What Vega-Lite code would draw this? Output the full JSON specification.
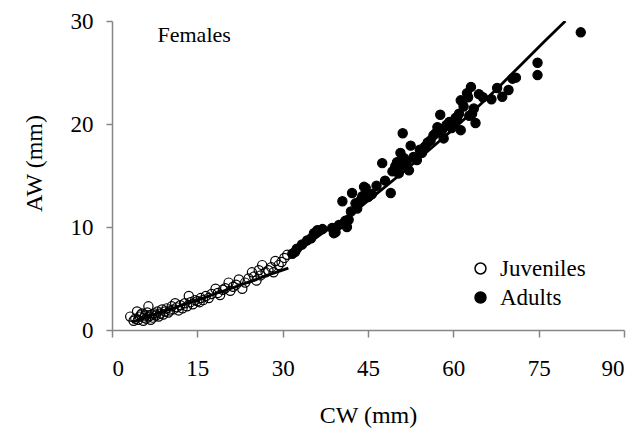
{
  "$schema": "https://vega.github.io/schema/vega-lite/v6.json",
  "width": 512,
  "height": 309,
  "autosize": "none",
  "padding": {"left": 112, "top": 21, "right": 15, "bottom": 100},
  "background": "white",
  "config": {
    "view": {"stroke": null},
    "font": "Liberation Serif",
    "axis": {
      "grid": false,
      "domainColor": "#868686",
      "tickColor": "#868686",
      "domainWidth": 1.5,
      "tickWidth": 1.5,
      "labelColor": "black",
      "titleColor": "black",
      "labelFont": "Liberation Serif",
      "titleFont": "Liberation Serif",
      "labelFontSize": 23,
      "titleFontSize": 24,
      "titleFontWeight": "normal"
    }
  },
  "datasets": {
    "pts": [
      {"CW": 3.2, "AW": 1.3, "Stage": "Juveniles"},
      {"CW": 3.8, "AW": 0.9, "Stage": "Juveniles"},
      {"CW": 4.1, "AW": 1.1, "Stage": "Juveniles"},
      {"CW": 4.4, "AW": 1.8, "Stage": "Juveniles"},
      {"CW": 4.6, "AW": 1.0, "Stage": "Juveniles"},
      {"CW": 4.9, "AW": 1.3, "Stage": "Juveniles"},
      {"CW": 5.1, "AW": 1.5, "Stage": "Juveniles"},
      {"CW": 5.3, "AW": 1.6, "Stage": "Juveniles"},
      {"CW": 5.5, "AW": 0.9, "Stage": "Juveniles"},
      {"CW": 5.6, "AW": 1.2, "Stage": "Juveniles"},
      {"CW": 5.8, "AW": 1.4, "Stage": "Juveniles"},
      {"CW": 6.0, "AW": 1.1, "Stage": "Juveniles"},
      {"CW": 6.2, "AW": 1.7, "Stage": "Juveniles"},
      {"CW": 6.4, "AW": 2.3, "Stage": "Juveniles"},
      {"CW": 6.5, "AW": 1.3, "Stage": "Juveniles"},
      {"CW": 6.8, "AW": 1.0, "Stage": "Juveniles"},
      {"CW": 7.0, "AW": 1.5, "Stage": "Juveniles"},
      {"CW": 7.2, "AW": 1.2, "Stage": "Juveniles"},
      {"CW": 7.5, "AW": 1.6, "Stage": "Juveniles"},
      {"CW": 7.7, "AW": 1.4, "Stage": "Juveniles"},
      {"CW": 8.0, "AW": 1.8, "Stage": "Juveniles"},
      {"CW": 8.2, "AW": 1.3, "Stage": "Juveniles"},
      {"CW": 8.5, "AW": 1.6, "Stage": "Juveniles"},
      {"CW": 8.8, "AW": 2.0, "Stage": "Juveniles"},
      {"CW": 9.0, "AW": 1.5, "Stage": "Juveniles"},
      {"CW": 9.3, "AW": 1.8, "Stage": "Juveniles"},
      {"CW": 9.6, "AW": 2.1, "Stage": "Juveniles"},
      {"CW": 9.9, "AW": 1.7, "Stage": "Juveniles"},
      {"CW": 10.2, "AW": 1.9, "Stage": "Juveniles"},
      {"CW": 10.5, "AW": 2.3, "Stage": "Juveniles"},
      {"CW": 10.8, "AW": 2.0, "Stage": "Juveniles"},
      {"CW": 11.1, "AW": 2.6, "Stage": "Juveniles"},
      {"CW": 11.4, "AW": 2.2, "Stage": "Juveniles"},
      {"CW": 11.7, "AW": 1.9, "Stage": "Juveniles"},
      {"CW": 12.0, "AW": 2.4, "Stage": "Juveniles"},
      {"CW": 12.4, "AW": 2.1, "Stage": "Juveniles"},
      {"CW": 12.8, "AW": 2.6, "Stage": "Juveniles"},
      {"CW": 13.2, "AW": 2.3, "Stage": "Juveniles"},
      {"CW": 13.5, "AW": 3.3, "Stage": "Juveniles"},
      {"CW": 13.8, "AW": 2.7, "Stage": "Juveniles"},
      {"CW": 14.2, "AW": 2.5, "Stage": "Juveniles"},
      {"CW": 14.6, "AW": 2.9, "Stage": "Juveniles"},
      {"CW": 15.0, "AW": 2.8, "Stage": "Juveniles"},
      {"CW": 15.4, "AW": 2.7, "Stage": "Juveniles"},
      {"CW": 15.6, "AW": 3.1, "Stage": "Juveniles"},
      {"CW": 16.0, "AW": 2.9, "Stage": "Juveniles"},
      {"CW": 16.5, "AW": 3.3, "Stage": "Juveniles"},
      {"CW": 17.0, "AW": 3.1, "Stage": "Juveniles"},
      {"CW": 17.5, "AW": 3.5, "Stage": "Juveniles"},
      {"CW": 18.2, "AW": 4.0, "Stage": "Juveniles"},
      {"CW": 18.6, "AW": 3.6, "Stage": "Juveniles"},
      {"CW": 19.0, "AW": 3.4, "Stage": "Juveniles"},
      {"CW": 19.5, "AW": 3.9, "Stage": "Juveniles"},
      {"CW": 19.9, "AW": 4.05, "Stage": "Juveniles"},
      {"CW": 20.5, "AW": 4.6, "Stage": "Juveniles"},
      {"CW": 20.8, "AW": 3.8, "Stage": "Juveniles"},
      {"CW": 21.3, "AW": 4.2, "Stage": "Juveniles"},
      {"CW": 21.8, "AW": 4.4, "Stage": "Juveniles"},
      {"CW": 22.3, "AW": 4.9, "Stage": "Juveniles"},
      {"CW": 22.9, "AW": 4.0, "Stage": "Juveniles"},
      {"CW": 23.4, "AW": 4.6, "Stage": "Juveniles"},
      {"CW": 24.0, "AW": 5.0, "Stage": "Juveniles"},
      {"CW": 24.6, "AW": 5.6, "Stage": "Juveniles"},
      {"CW": 25.0, "AW": 5.2, "Stage": "Juveniles"},
      {"CW": 25.4, "AW": 4.8, "Stage": "Juveniles"},
      {"CW": 25.8, "AW": 5.8, "Stage": "Juveniles"},
      {"CW": 26.1, "AW": 5.3, "Stage": "Juveniles"},
      {"CW": 26.4, "AW": 6.3, "Stage": "Juveniles"},
      {"CW": 27.0, "AW": 5.6, "Stage": "Juveniles"},
      {"CW": 27.5, "AW": 5.8, "Stage": "Juveniles"},
      {"CW": 28.0, "AW": 6.1, "Stage": "Juveniles"},
      {"CW": 28.4, "AW": 5.6, "Stage": "Juveniles"},
      {"CW": 28.7, "AW": 6.7, "Stage": "Juveniles"},
      {"CW": 29.3, "AW": 6.3, "Stage": "Juveniles"},
      {"CW": 29.8, "AW": 6.6, "Stage": "Juveniles"},
      {"CW": 30.3, "AW": 7.0, "Stage": "Juveniles"},
      {"CW": 30.8, "AW": 7.3, "Stage": "Juveniles"},
      {"CW": 31.7, "AW": 7.4, "Stage": "Adults"},
      {"CW": 32.2, "AW": 7.6, "Stage": "Adults"},
      {"CW": 32.5, "AW": 7.9, "Stage": "Adults"},
      {"CW": 33.4, "AW": 8.3, "Stage": "Adults"},
      {"CW": 34.3, "AW": 8.7, "Stage": "Adults"},
      {"CW": 35.0, "AW": 8.9, "Stage": "Adults"},
      {"CW": 35.5, "AW": 9.4, "Stage": "Adults"},
      {"CW": 36.1, "AW": 9.7, "Stage": "Adults"},
      {"CW": 37.0, "AW": 9.8, "Stage": "Adults"},
      {"CW": 38.7, "AW": 9.9, "Stage": "Adults"},
      {"CW": 39.0, "AW": 9.4, "Stage": "Adults"},
      {"CW": 39.3, "AW": 9.5, "Stage": "Adults"},
      {"CW": 39.9, "AW": 10.2, "Stage": "Adults"},
      {"CW": 40.5, "AW": 12.5, "Stage": "Adults"},
      {"CW": 41.0, "AW": 10.6, "Stage": "Adults"},
      {"CW": 41.3, "AW": 10.0, "Stage": "Adults"},
      {"CW": 41.6, "AW": 10.7, "Stage": "Adults"},
      {"CW": 42.0, "AW": 11.5, "Stage": "Adults"},
      {"CW": 42.2, "AW": 13.3, "Stage": "Adults"},
      {"CW": 42.8, "AW": 12.3, "Stage": "Adults"},
      {"CW": 43.1, "AW": 11.8, "Stage": "Adults"},
      {"CW": 43.7, "AW": 12.6, "Stage": "Adults"},
      {"CW": 44.0, "AW": 13.0, "Stage": "Adults"},
      {"CW": 44.3, "AW": 13.9, "Stage": "Adults"},
      {"CW": 44.6, "AW": 13.8, "Stage": "Adults"},
      {"CW": 45.0, "AW": 12.9, "Stage": "Adults"},
      {"CW": 45.4, "AW": 13.1, "Stage": "Adults"},
      {"CW": 45.7, "AW": 13.2, "Stage": "Adults"},
      {"CW": 46.5, "AW": 14.0, "Stage": "Adults"},
      {"CW": 47.5, "AW": 16.2, "Stage": "Adults"},
      {"CW": 48.0, "AW": 14.5, "Stage": "Adults"},
      {"CW": 49.0, "AW": 13.3, "Stage": "Adults"},
      {"CW": 49.3, "AW": 15.4, "Stage": "Adults"},
      {"CW": 49.8, "AW": 15.9, "Stage": "Adults"},
      {"CW": 50.1, "AW": 16.3, "Stage": "Adults"},
      {"CW": 50.4, "AW": 15.2, "Stage": "Adults"},
      {"CW": 50.7, "AW": 17.2, "Stage": "Adults"},
      {"CW": 50.9, "AW": 16.0, "Stage": "Adults"},
      {"CW": 51.1, "AW": 19.1, "Stage": "Adults"},
      {"CW": 51.3, "AW": 16.7, "Stage": "Adults"},
      {"CW": 51.8, "AW": 16.3, "Stage": "Adults"},
      {"CW": 52.2, "AW": 15.5, "Stage": "Adults"},
      {"CW": 52.5, "AW": 17.9, "Stage": "Adults"},
      {"CW": 53.0, "AW": 16.8, "Stage": "Adults"},
      {"CW": 53.4, "AW": 16.7, "Stage": "Adults"},
      {"CW": 53.6, "AW": 16.5, "Stage": "Adults"},
      {"CW": 54.1, "AW": 17.5, "Stage": "Adults"},
      {"CW": 54.5, "AW": 17.2, "Stage": "Adults"},
      {"CW": 55.0, "AW": 17.8, "Stage": "Adults"},
      {"CW": 55.5, "AW": 18.2, "Stage": "Adults"},
      {"CW": 56.0, "AW": 18.4, "Stage": "Adults"},
      {"CW": 56.5, "AW": 18.9, "Stage": "Adults"},
      {"CW": 56.9, "AW": 19.1, "Stage": "Adults"},
      {"CW": 57.2, "AW": 19.7, "Stage": "Adults"},
      {"CW": 57.7, "AW": 20.9, "Stage": "Adults"},
      {"CW": 58.0, "AW": 19.4, "Stage": "Adults"},
      {"CW": 58.3, "AW": 18.6, "Stage": "Adults"},
      {"CW": 58.8, "AW": 19.9, "Stage": "Adults"},
      {"CW": 59.3, "AW": 20.2, "Stage": "Adults"},
      {"CW": 59.7, "AW": 19.6, "Stage": "Adults"},
      {"CW": 60.1, "AW": 19.9, "Stage": "Adults"},
      {"CW": 60.4, "AW": 20.6, "Stage": "Adults"},
      {"CW": 60.7, "AW": 20.4, "Stage": "Adults"},
      {"CW": 61.0, "AW": 21.0, "Stage": "Adults"},
      {"CW": 61.3, "AW": 22.3, "Stage": "Adults"},
      {"CW": 61.3, "AW": 19.4, "Stage": "Adults"},
      {"CW": 61.6, "AW": 22.2, "Stage": "Adults"},
      {"CW": 61.8, "AW": 21.7, "Stage": "Adults"},
      {"CW": 62.4, "AW": 23.0, "Stage": "Adults"},
      {"CW": 62.6, "AW": 22.6, "Stage": "Adults"},
      {"CW": 62.8, "AW": 20.8, "Stage": "Adults"},
      {"CW": 63.1, "AW": 23.6, "Stage": "Adults"},
      {"CW": 63.3, "AW": 21.0, "Stage": "Adults"},
      {"CW": 63.6, "AW": 21.5, "Stage": "Adults"},
      {"CW": 63.9, "AW": 20.1, "Stage": "Adults"},
      {"CW": 64.5, "AW": 22.9, "Stage": "Adults"},
      {"CW": 65.2, "AW": 22.6, "Stage": "Adults"},
      {"CW": 66.7, "AW": 22.4, "Stage": "Adults"},
      {"CW": 67.7, "AW": 23.5, "Stage": "Adults"},
      {"CW": 68.6, "AW": 22.65, "Stage": "Adults"},
      {"CW": 69.7, "AW": 23.3, "Stage": "Adults"},
      {"CW": 70.4, "AW": 24.4, "Stage": "Adults"},
      {"CW": 71.0, "AW": 24.5, "Stage": "Adults"},
      {"CW": 74.8, "AW": 25.95, "Stage": "Adults"},
      {"CW": 74.8, "AW": 24.75, "Stage": "Adults"},
      {"CW": 82.4, "AW": 28.9, "Stage": "Adults"}
    ],
    "fit": [
      {"CW": 3.5, "AW": 0.75, "Fit": "J"},
      {"CW": 6, "AW": 1.25, "Fit": "J"},
      {"CW": 9, "AW": 1.8, "Fit": "J"},
      {"CW": 12, "AW": 2.35, "Fit": "J"},
      {"CW": 15, "AW": 2.9, "Fit": "J"},
      {"CW": 18, "AW": 3.5, "Fit": "J"},
      {"CW": 21, "AW": 4.05, "Fit": "J"},
      {"CW": 24, "AW": 4.65, "Fit": "J"},
      {"CW": 27, "AW": 5.25, "Fit": "J"},
      {"CW": 31, "AW": 6.0, "Fit": "J"},
      {"CW": 31.7, "AW": 7.2, "Fit": "A"},
      {"CW": 34, "AW": 8.2, "Fit": "A"},
      {"CW": 37, "AW": 9.4, "Fit": "A"},
      {"CW": 40, "AW": 10.5, "Fit": "A"},
      {"CW": 44, "AW": 12.1, "Fit": "A"},
      {"CW": 48, "AW": 13.9, "Fit": "A"},
      {"CW": 52, "AW": 15.7, "Fit": "A"},
      {"CW": 56, "AW": 17.6, "Fit": "A"},
      {"CW": 60, "AW": 19.5, "Fit": "A"},
      {"CW": 64, "AW": 21.5, "Fit": "A"},
      {"CW": 68, "AW": 23.6, "Fit": "A"},
      {"CW": 72, "AW": 25.8, "Fit": "A"},
      {"CW": 76, "AW": 28.0, "Fit": "A"},
      {"CW": 79.7, "AW": 30.0, "Fit": "A"}
    ],
    "label": [
      {"CW": 8, "AW": 28.6, "text": "Females"}
    ]
  },
  "layer": [
    {
      "data": {"name": "pts"},
      "mark": {"type": "circle", "size": 85, "stroke": "black", "strokeWidth": 1.2, "opacity": 1},
      "encoding": {
        "x": {
          "field": "CW", "type": "quantitative",
          "scale": {"domain": [0, 90], "nice": false},
          "axis": {"values": [0, 15, 30, 45, 60, 75, 90], "title": "CW (mm)", "tickSize": 7, "labelPadding": 20, "titlePadding": 23}
        },
        "y": {
          "field": "AW", "type": "quantitative",
          "scale": {"domain": [0, 30], "nice": false},
          "axis": {"values": [0, 10, 20, 30], "title": "AW (mm)", "tickSize": 6, "labelPadding": 13, "titlePadding": 24, "titleY": 142}
        },
        "fill": {
          "field": "Stage", "type": "nominal",
          "scale": {"domain": ["Juveniles", "Adults"], "range": ["rgba(255,255,255,0)", "black"]},
          "legend": {
            "title": null,
            "orient": "none",
            "legendX": 357,
            "legendY": 236,
            "padding": 0,
            "symbolType": "circle",
            "symbolSize": 120,
            "symbolStrokeColor": "black",
            "symbolStrokeWidth": 1.5,
            "labelFont": "Liberation Serif",
            "labelFontSize": 23,
            "labelColor": "black",
            "labelOffset": 8,
            "rowPadding": 5
          }
        }
      }
    },
    {
      "data": {"name": "fit"},
      "mark": {"type": "line", "color": "black", "strokeWidth": 2.8, "clip": true},
      "encoding": {
        "x": {"field": "CW", "type": "quantitative"},
        "y": {"field": "AW", "type": "quantitative"},
        "detail": {"field": "Fit", "type": "nominal"}
      }
    },
    {
      "data": {"name": "label"},
      "mark": {"type": "text", "align": "left", "baseline": "middle", "font": "Liberation Serif", "fontSize": 22, "color": "black"},
      "encoding": {
        "x": {"field": "CW", "type": "quantitative"},
        "y": {"field": "AW", "type": "quantitative"},
        "text": {"field": "text"}
      }
    }
  ]
}
